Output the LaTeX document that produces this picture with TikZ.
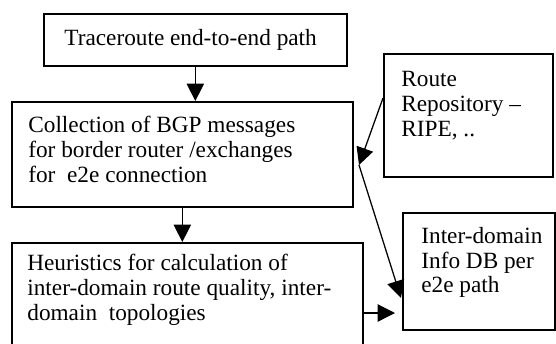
\documentclass[tikz,border=0pt]{standalone}
\usepackage{fontspec}
\setmainfont{Liberation Serif}
\usetikzlibrary{
  arrows.meta,
  positioning
}

\begin{document}
\begin{tikzpicture}[
        x=0.55pt,y=-0.55pt,
        block/.style 2 args={
            draw,
            line width=0.9pt,
            anchor=north west,
            inner sep=0pt,
            minimum width=#1*0.55pt,
            minimum height=#2*0.55pt
          },
        txt/.style={
            anchor=north west,
            align=left,
            inner sep=0pt,
            font=\fontsize{12.8}{13.6}\selectfont
          },
        arrow/.style={
            -{Triangle[length=9.5pt,width=9.5pt]},
            line width=0.7pt
          }
      ]
      \useasboundingbox (0,0) rectangle (556,343);

      % 枠の描画
      \node[block={303}{52}] (trace) at (43,13) {};
      \node[block={341}{105}] (collect) at (11,101) {};
      \node[block={351}{106}] (heur) at (11,242) {};
      \node[block={169}{123}] (repo) at (383,53) {};
      \node[block={152}{117}] (infodb) at (402,212) {};

      % 枠内の文字
      \node[txt] (tracetxt) at (64,29) {Traceroute end-to-end path};
      \node[txt] (collecttxt) at (28,116) {Collection of BGP messages\\for border router /exchanges\\for~ e2e connection};
      \node[txt] (heurtxt) at (27,254) {Heuristics for calculation of\\inter-domain route quality, inter-\\domain~ topologies};
      \node[txt] (repotxt) at (401,71) {Route\\Repository --\\RIPE, ..};
      \node[txt] (infodbtxt) at (421,227) {Inter-domain\\Info DB per\\e2e path};

      % 座標の定義
      \coordinate (repoout) at (383,98);
      \coordinate (split) at (359,165);
      \coordinate (dbin) at (401,298);
      \coordinate (heurend) at (395,313);

      % 矢印
      \draw[arrow] (trace.south) -- (trace.south |- collect.north);
      \draw[arrow] (collect.south) -- (collect.south |- heur.north);
      \draw[arrow] (repoout) -- (split);
      \draw[arrow] (split) -- (dbin);
      \draw[arrow] (heur.east |- heurend) -- (heurend);

    \end{tikzpicture}
\end{document}
